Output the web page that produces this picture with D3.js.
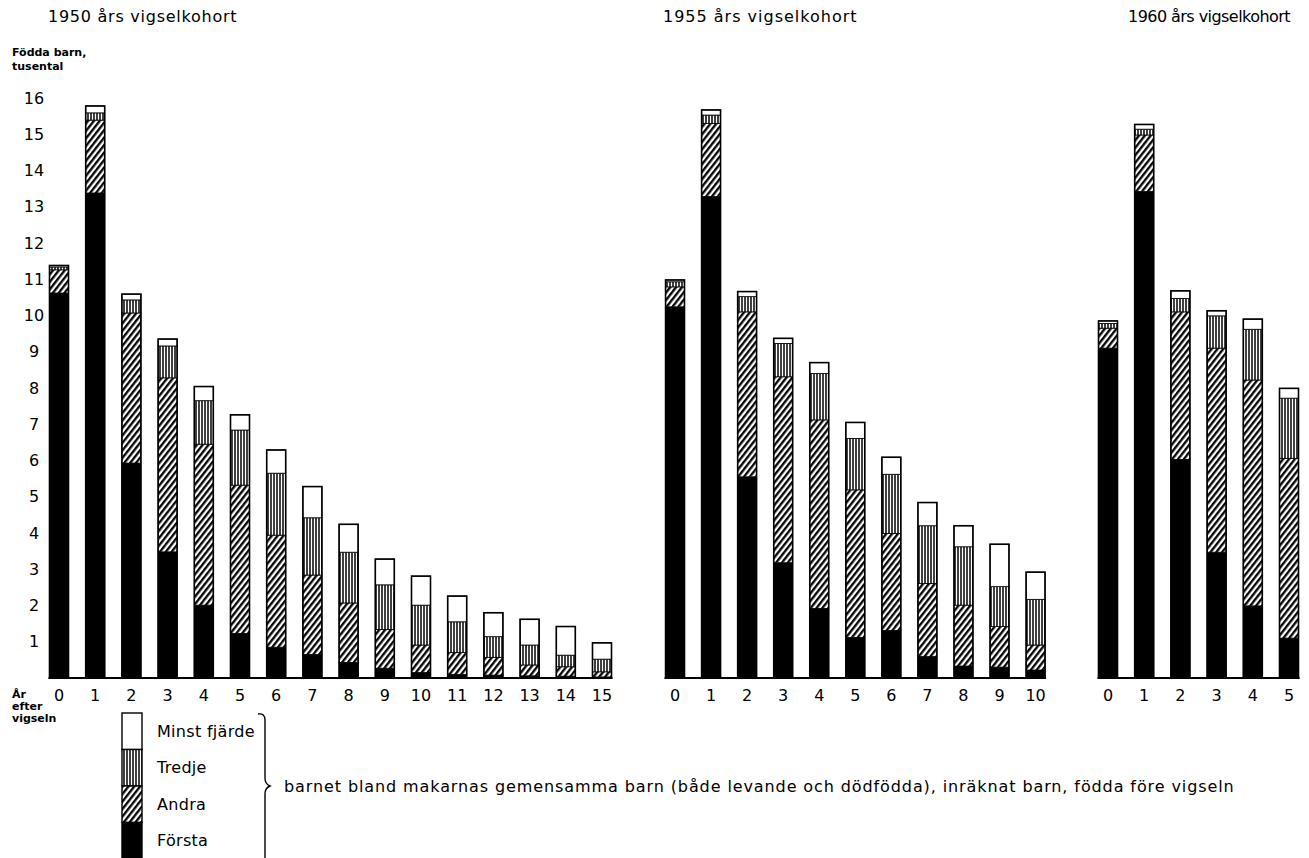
<!DOCTYPE html>
<html>
<head>
<meta charset="utf-8">
<script src="https://cdn.jsdelivr.net/npm/d3@7"></script>
<style>
  body { margin: 0; background: #fff; }
  text { font-family: "DejaVu Sans", sans-serif; fill: #000; }
</style>
</head>
<body>
<div id="grafico"></div>
<script>
const width = 1309
const height = 858

// Födda barn, tusental, per år efter vigseln och barnets ordning
const keys = ['forsta', 'andra', 'tredje', 'fjarde']
const legendLabels = ['Första', 'Andra', 'Tredje', 'Minst fjärde']

const ar1950 = d3.range(0, 16)
const forsta1950 = [10.62, 13.38, 5.93, 3.48, 2.01, 1.23, 0.85, 0.65, 0.43, 0.27, 0.15, 0.10, 0.08, 0.06, 0.05, 0.03]
const andra1950  = [0.64, 2.01, 4.14, 4.80, 4.44, 4.09, 3.09, 2.19, 1.64, 1.07, 0.76, 0.60, 0.49, 0.30, 0.26, 0.14]
const tredje1950 = [0.08, 0.20, 0.36, 0.88, 1.20, 1.52, 1.71, 1.58, 1.40, 1.23, 1.10, 0.85, 0.57, 0.55, 0.32, 0.35]
const fjarde1950 = [0.04, 0.19, 0.16, 0.19, 0.39, 0.42, 0.64, 0.86, 0.77, 0.71, 0.80, 0.71, 0.66, 0.71, 0.79, 0.45]

const ar1955 = d3.range(0, 11)
const forsta1955 = [10.24, 13.28, 5.55, 3.18, 1.92, 1.12, 1.31, 0.59, 0.33, 0.30, 0.22]
const andra1955  = [0.55, 2.02, 4.55, 5.13, 5.20, 4.07, 2.68, 2.02, 1.68, 1.12, 0.69]
const tredje1955 = [0.14, 0.23, 0.42, 0.92, 1.28, 1.42, 1.63, 1.59, 1.61, 1.10, 1.26]
const fjarde1955 = [0.05, 0.14, 0.14, 0.14, 0.30, 0.44, 0.47, 0.64, 0.58, 1.17, 0.75]

const ar1960 = d3.range(0, 6)
const forsta1960 = [9.10, 13.42, 6.03, 3.47, 1.99, 1.10]
const andra1960  = [0.55, 1.56, 4.07, 5.63, 6.23, 4.96]
const tredje1960 = [0.13, 0.16, 0.37, 0.89, 1.40, 1.66]
const fjarde1960 = [0.07, 0.13, 0.21, 0.14, 0.28, 0.27]

const yTicks = d3.range(1, 17)

const svg = d3.select('#grafico').append('svg')
              .attr('width', width)
              .attr('height', height)

// mönster
const defs = svg.append('defs')
const diag = defs.append('pattern')
                 .attr('id', 'diag')
                 .attr('patternUnits', 'userSpaceOnUse')
                 .attr('width', 4.6).attr('height', 10)
                 .attr('patternTransform', 'rotate(38)')
diag.append('rect').attr('width', 4.6).attr('height', 10).attr('fill', '#fff')
diag.append('line').attr('x1', 1.2).attr('x2', 1.2).attr('y1', 0).attr('y2', 10)
    .attr('stroke', '#000').attr('stroke-width', 2.3)

const vert = defs.append('pattern')
                 .attr('id', 'vert')
                 .attr('patternUnits', 'userSpaceOnUse')
                 .attr('width', 3).attr('height', 10)
vert.append('rect').attr('width', 3).attr('height', 10).attr('fill', '#fff')
vert.append('line').attr('x1', 1).attr('x2', 1).attr('y1', 0).attr('y2', 10)
    .attr('stroke', '#000').attr('stroke-width', 1.5)

const fills = {forsta: '#000', andra: 'url(#diag)', tredje: 'url(#vert)', fjarde: '#fff'}

const y = d3.scaleLinear().domain([0, 16]).range([678, 98])

const panels = [
  {title: '1950 års vigselkohort', titleX: 48, spacing: 0.75, years: ar1950, series: [forsta1950, andra1950, tredje1950, fjarde1950], range: [40.9, 620.1]},
  {title: '1955 års vigselkohort', titleX: 663, spacing: 1, years: ar1955, series: [forsta1955, andra1955, tredje1955, fjarde1955], range: [657, 1053.6]},
  {title: '1960 års vigselkohort', titleX: 1128, spacing: -0.55, years: ar1960, series: [forsta1960, andra1960, tredje1960, fjarde1960], range: [1089.9, 1307.1]}
]

const stack = d3.stack().keys(keys)

panels.forEach(p => {
  const rows = p.years.map((yr, i) => {
    const r = {ar: yr}
    keys.forEach((k, j) => r[k] = p.series[j][i])
    return r
  })
  const x = d3.scaleBand()
              .domain(p.years)
              .range(p.range)
              .paddingInner(0.475)
              .paddingOuter(0.2375)

  const g = svg.append('g')

  g.append('text')
   .attr('x', p.titleX).attr('y', 22)
   .attr('font-size', 16)
   .attr('letter-spacing', p.spacing)
   .text(p.title)

  const layers = stack(rows)
  g.selectAll('g.layer')
   .data(layers)
   .enter()
   .append('g')
   .attr('class', 'layer')
   .attr('fill', d => fills[d.key])
   .selectAll('rect')
   .data(d => d)
   .enter()
   .append('rect')
   .attr('x', d => x(d.data.ar))
   .attr('y', d => y(d[1]))
   .attr('width', x.bandwidth())
   .attr('height', d => y(d[0]) - y(d[1]))
   .attr('stroke', '#000')
   .attr('stroke-width', 0.8)

  // kontur runt hela stapeln
  g.selectAll('rect.outline')
   .data(layers[layers.length - 1])
   .enter()
   .append('rect')
   .attr('class', 'outline')
   .attr('x', d => x(d.data.ar))
   .attr('y', d => y(d[1]))
   .attr('width', x.bandwidth())
   .attr('height', d => y(0) - y(d[1]))
   .attr('fill', 'none')
   .attr('stroke', '#000')
   .attr('stroke-width', 1.6)

  // baslinje
  g.append('line')
   .attr('x1', x(p.years[0]) - 1)
   .attr('x2', x(p.years[p.years.length - 1]) + x.bandwidth() + 1)
   .attr('y1', y(0)).attr('y2', y(0))
   .attr('stroke', '#000').attr('stroke-width', 2)

  const xAxis = g.append('g')
                 .attr('transform', `translate(0, ${y(0) + 6})`)
                 .call(d3.axisBottom(x).tickSize(0).tickPadding(6))
  xAxis.select('.domain').remove()
  xAxis.selectAll('text')
       .attr('font-family', '"DejaVu Sans", sans-serif')
       .attr('font-size', 16)
})

// y-axel, bara etiketter
const yAxis = svg.append('g')
                 .attr('transform', 'translate(43, 0)')
                 .call(d3.axisLeft(y).tickValues(yTicks).tickSize(0).tickPadding(0))
yAxis.select('.domain').remove()
yAxis.selectAll('text')
     .attr('font-family', '"DejaVu Sans", sans-serif')
     .attr('font-size', 16)
     .attr('text-anchor', 'middle')
     .attr('x', -9)

svg.append('text')
   .attr('x', 12).attr('y', 56)
   .attr('font-size', 11).attr('font-weight', 'bold')
   .selectAll('tspan')
   .data(['Födda barn,', 'tusental'])
   .enter()
   .append('tspan')
   .attr('x', 12)
   .attr('dy', (d, i) => i == 0 ? 0 : 14)
   .text(d => d)

svg.append('text')
   .attr('x', 12).attr('y', 698)
   .attr('font-size', 11).attr('font-weight', 'bold')
   .selectAll('tspan')
   .data(['År', 'efter', 'vigseln'])
   .enter()
   .append('tspan')
   .attr('x', 12)
   .attr('dy', (d, i) => i == 0 ? 0 : 12)
   .text(d => d)

// teckenförklaring
const legendOrder = [3, 2, 1, 0]
const ly = d3.scaleBand().domain(legendOrder).range([713, 859])
const legend = svg.append('g')
legend.selectAll('rect')
      .data(legendOrder)
      .enter()
      .append('rect')
      .attr('x', 122)
      .attr('y', d => ly(d))
      .attr('width', 20)
      .attr('height', ly.bandwidth())
      .attr('fill', d => fills[keys[d]])
      .attr('stroke', '#000')
      .attr('stroke-width', 1.4)
legend.selectAll('text')
      .data(legendOrder)
      .enter()
      .append('text')
      .attr('x', 157)
      .attr('y', d => ly(d) + ly.bandwidth() / 2)
      .attr('dy', '0.35em')
      .attr('font-size', 16)
      .attr('letter-spacing', 0.3)
      .text(d => legendLabels[d])

legend.append('path')
      .attr('d', 'M258,714 Q265,713 265,720 L265,778 Q265,784 270,786 Q265,788 265,794 L265,858')
      .attr('fill', 'none')
      .attr('stroke', '#000')
      .attr('stroke-width', 1.4)

legend.append('text')
      .attr('x', 284).attr('y', 786)
      .attr('dy', '0.35em')
      .attr('font-size', 16)
      .attr('letter-spacing', 0.9)
      .text('barnet bland makarnas gemensamma barn (både levande och dödfödda), inräknat  barn, födda före vigseln')
</script>
</body>
</html>
